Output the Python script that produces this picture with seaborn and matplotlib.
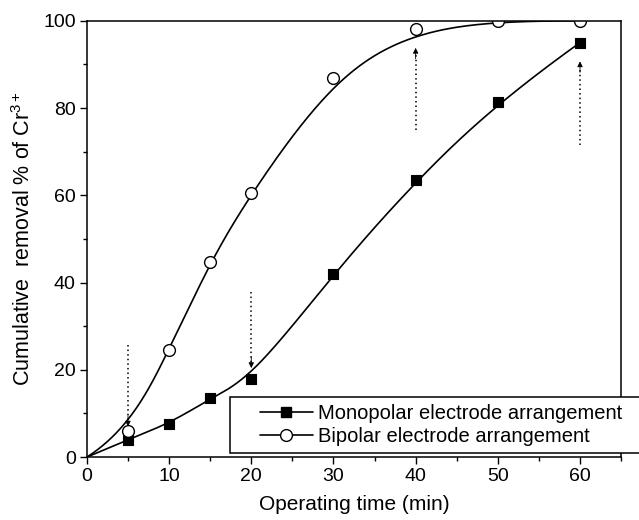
import numpy as np
import matplotlib
matplotlib.use("Agg")
import matplotlib.pyplot as plt
import seaborn as sns
from matplotlib.lines import Line2D
from matplotlib.patches import Rectangle

# ---- data ----
time_min = [0, 5, 10, 15, 20, 30, 40, 50, 60]
monopolar = [0, 4.0, 7.5, 13.5, 18.0, 42.0, 63.5, 81.5, 95.0]
bipolar = [0, 6.0, 24.5, 44.8, 60.6, 87.0, 98.2, 100.0, 100.0]
label_mono = "Monopolar electrode arrangement"
label_bi = "Bipolar electrode arrangement"
x_ticks = [0, 10, 20, 30, 40, 50, 60]
y_ticks = [0, 20, 40, 60, 80, 100]

# dotted arrows (x, tail y, head y)
arrow_x = [5, 20, 40, 60]
arrow_tail = [25.7, 37.9, 75.0, 71.5]
arrow_head = [7.0, 20.4, 93.8, 90.7]


def bspline(px, py, k=3, num=400):
    """Clamped cubic B-spline using the data points as control points."""
    px = np.asarray(px, float)
    py = np.asarray(py, float)
    n = len(px)
    t = np.concatenate([np.zeros(k), np.arange(n - k + 1), np.full(k, n - k)]).astype(float)
    u = np.linspace(0, n - k, num)
    u[-1] -= 1e-9

    def N(i, d):
        if d == 0:
            return ((t[i] <= u) & (u < t[i + 1])).astype(float)
        a = np.zeros_like(u)
        b = np.zeros_like(u)
        if t[i + d] != t[i]:
            a = (u - t[i]) / (t[i + d] - t[i]) * N(i, d - 1)
        if t[i + d + 1] != t[i + 1]:
            b = (t[i + d + 1] - u) / (t[i + d + 1] - t[i + 1]) * N(i + 1, d - 1)
        return a + b

    B = np.array([N(i, k) for i in range(n)])
    return B.T @ px, B.T @ py


sns.set_theme(style="ticks")
plt.rcParams["font.family"] = ["Liberation Sans", "DejaVu Sans"]
plt.rcParams["mathtext.fontset"] = "custom"
plt.rcParams["mathtext.rm"] = "Liberation Sans"
plt.rcParams["mathtext.it"] = "Liberation Sans:italic"
plt.rcParams["text.color"] = "black"
plt.rcParams["axes.labelcolor"] = "black"
plt.rcParams["xtick.color"] = "black"
plt.rcParams["ytick.color"] = "black"

fig = plt.figure(figsize=(6.39, 5.2), dpi=100)
ax = fig.add_axes([0.136, 0.121, 0.836, 0.839])

mx, my = bspline(time_min, monopolar)
bx, by = bspline(time_min, bipolar)
sns.lineplot(x=mx, y=my, sort=False, estimator=None, color="black", lw=1.2, ax=ax)
sns.lineplot(x=bx, y=by, sort=False, estimator=None, color="black", lw=1.2, ax=ax)

sns.scatterplot(x=time_min[1:], y=monopolar[1:], marker="s", s=58, color="black",
                edgecolor="black", linewidth=0.8, ax=ax, zorder=3, clip_on=True)
sns.scatterplot(x=time_min[1:], y=bipolar[1:], marker="o", s=72, facecolor="white",
                edgecolor="black", linewidth=1.0, ax=ax, zorder=3, clip_on=True)

for x, y0, y1 in zip(arrow_x, arrow_tail, arrow_head):
    d = 1.0 if y1 > y0 else -1.0
    ax.plot([x, x], [y0, y1 - d * 1.5], ls=(0, (1, 2)), color="black", lw=1.1)
    ax.annotate("", xy=(x, y1), xytext=(x, y1 - d * 2.5),
                arrowprops=dict(arrowstyle="-|>", color="black", lw=0.6,
                                mutation_scale=8, shrinkA=0, shrinkB=0))

ax.set_xlim(0, 65)
ax.set_ylim(0, 100)
ax.set_xticks(x_ticks)
ax.set_yticks(y_ticks)
ax.set_xticks(np.arange(5, 66, 10), minor=True)
ax.set_yticks(np.arange(10, 100, 20), minor=True)
ax.tick_params(axis="both", which="major", direction="out", length=5, width=1,
               labelsize=14, colors="black", pad=3)
ax.tick_params(axis="both", which="minor", direction="out", length=3, width=1)
for sp in ax.spines.values():
    sp.set_visible(True)
    sp.set_linewidth(1.1)
    sp.set_color("black")
    sp.set_zorder(3.5)

ax.set_xlabel("Operating time (min)", fontsize=15, labelpad=7)
ax.set_ylabel("Cumulative  removal % of Cr$^{3+}$", fontsize=15.5, labelpad=6)

# legend box (extends past the right spine like the original)
box = Rectangle((0.268, 0.009), 0.77, 0.128, transform=ax.transAxes,
                facecolor="white", edgecolor="black", lw=1.1, clip_on=False, zorder=4)
ax.add_patch(box)

handles = [
    Line2D([], [], color="black", lw=1.2, marker="s", markersize=7.5,
           markerfacecolor="black", markeredgecolor="black"),
    Line2D([], [], color="black", lw=1.2, marker="o", markersize=8.5,
           markerfacecolor="white", markeredgecolor="black"),
]
leg = ax.legend(handles, [label_mono, label_bi], loc="center left",
                bbox_to_anchor=(0.324, 0.0745), fontsize=14.5, frameon=False,
                handlelength=2.63, handletextpad=0.25, borderpad=0,
                labelspacing=0.2, borderaxespad=0)
leg.set_zorder(5)

fig.savefig("out.png", dpi=100)
